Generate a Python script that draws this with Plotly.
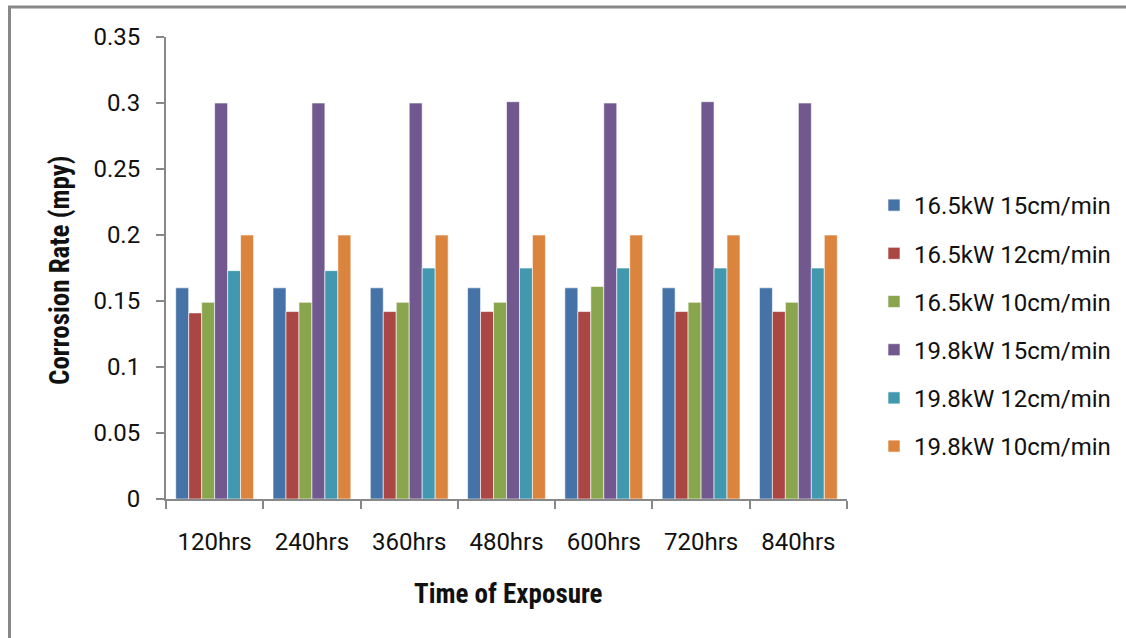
import plotly.graph_objects as go

categories = ["120hrs", "240hrs", "360hrs", "480hrs", "600hrs", "720hrs", "840hrs"]
s_165_15 = [0.160, 0.160, 0.160, 0.160, 0.160, 0.160, 0.160]
s_165_12 = [0.141, 0.142, 0.142, 0.142, 0.142, 0.142, 0.142]
s_165_10 = [0.149, 0.149, 0.149, 0.149, 0.161, 0.149, 0.149]
s_198_15 = [0.300, 0.300, 0.300, 0.301, 0.300, 0.301, 0.300]
s_198_12 = [0.173, 0.173, 0.175, 0.175, 0.175, 0.175, 0.175]
s_198_10 = [0.200, 0.200, 0.200, 0.200, 0.200, 0.200, 0.200]

series_names = ["16.5kW 15cm/min", "16.5kW 12cm/min", "16.5kW 10cm/min",
                "19.8kW 15cm/min", "19.8kW 12cm/min", "19.8kW 10cm/min"]
series_values = [s_165_15, s_165_12, s_165_10, s_198_15, s_198_12, s_198_10]
colors = ["#4572A7", "#AA4643", "#89A54E", "#71588F", "#4198AF", "#DB843D"]

W, H = 1126, 638
L, R, T, B = 166, 1126 - 847, 37, 638 - 499
PW, PH = W - L - R, H - T - B

fig = go.Figure()
for i, (name, vals, col) in enumerate(zip(series_names, series_values, colors)):
    fig.add_trace(go.Bar(
        x=categories, y=vals, name=name, legendgroup=f"g{i}",
        marker=dict(color=col, line=dict(color="rgba(255,255,255,0.6)", width=1)),
    ))

font_tick = dict(family="Roboto, Arial, sans-serif", size=24, color="#111")
title_font = dict(family="Roboto Condensed, Roboto, sans-serif", size=27, color="#111")

fig.update_layout(
    width=W, height=H,
    margin=dict(l=L, r=R, t=T, b=B, autoexpand=False),
    paper_bgcolor="white", plot_bgcolor="white",
    barmode="group", bargap=0.2, bargroupgap=0,
    showlegend=True,
    legend=dict(x=(874 - L) / PW, xanchor="left", y=1 - (183 - T) / PH, yanchor="top",
                font=font_tick, tracegroupgap=14, bgcolor="rgba(0,0,0,0)",
                itemwidth=30),
    xaxis=dict(showline=True, linecolor="#888", linewidth=2, ticks="outside",
               tickson="boundaries", ticklen=8, tickcolor="#888", tickwidth=2,
               tickfont=font_tick, showgrid=False, ticklabelstandoff=20),
    yaxis=dict(range=[0, 0.35], dtick=0.05, showline=True, linecolor="#888", linewidth=2,
               ticks="outside", ticklen=8, tickcolor="#888", tickwidth=2,
               tickfont=font_tick, showgrid=False, zeroline=False, ticklabelstandoff=11),
    annotations=[
        dict(text="<b>Time of Exposure</b>", xref="paper", yref="paper",
             x=(508 - L) / PW, y=-(594 - 499) / PH, xanchor="center", yanchor="middle",
             showarrow=False, font=title_font),
        dict(text="<b>Corrosion Rate (mpy)</b>", xref="paper", yref="paper",
             x=-(L - 60) / PW, y=1 - (270 - T) / PH, xanchor="center", yanchor="middle",
             textangle=-90, showarrow=False, font=title_font),
    ],
    shapes=[
        dict(type="rect", xref="paper", yref="paper",
             x0=-(L - 9.5) / PW, x1=(W + 20 - L) / PW,
             y0=-(H + 20 - 499) / PH, y1=1 + (T - 7) / PH,
             line=dict(color="#888", width=3), fillcolor="rgba(0,0,0,0)", layer="below"),
    ],
)

fig.write_html("out.html", config={"displayModeBar": False},
               post_script="document.body.style.margin='0';")
